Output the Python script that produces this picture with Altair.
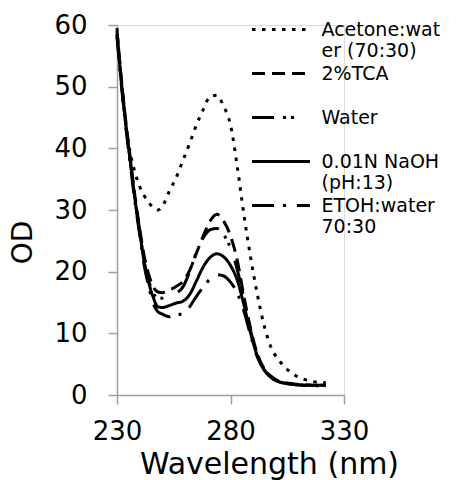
import altair as alt
import pandas as pd

wavelength = [230, 232, 234, 236, 238, 240, 242, 244, 246, 248, 250, 253, 256, 259, 262, 265,
              268, 271, 274, 277, 280, 283, 286, 289, 292, 295, 298, 301, 304, 308, 312, 316, 322]

series_names = ["Acetone:water (70:30)", "2%TCA", "Water", "0.01N NaOH (pH:13)", "ETOH:water 70:30"]

acetone = [59.5, 50.5, 43.5, 39.0, 36.0, 33.8, 32.3, 31.2, 30.4, 30.0, 30.6, 33.0, 35.2, 38.0, 40.8, 43.8,
           46.3, 48.4, 48.6, 46.8, 43.8, 37.0, 29.0, 22.0, 16.0, 11.0, 7.6, 5.8, 4.5, 3.3, 2.6, 2.2, 2.0]
tca = [59.0, 51.0, 44.0, 38.0, 32.0, 27.0, 22.5, 19.5, 17.5, 16.7, 16.6, 17.0, 17.6, 18.4, 20.2, 23.0,
       25.8, 28.2, 29.3, 28.2, 25.8, 21.8, 15.8, 10.5, 6.5, 4.2, 3.0, 2.3, 2.0, 1.8, 1.7, 1.6, 1.6]
water = [58.5, 50.5, 43.5, 37.5, 31.5, 26.5, 21.5, 18.5, 16.5, 15.8, 15.7, 16.0, 16.5, 17.5, 20.0, 23.2,
         25.5, 26.8, 27.0, 26.0, 23.8, 20.3, 15.5, 10.2, 6.3, 4.1, 2.9, 2.2, 1.9, 1.7, 1.6, 1.6, 1.6]
naoh = [58.5, 50.5, 43.5, 37.5, 31.5, 26.5, 21.5, 18.2, 15.8, 14.3, 14.2, 14.5, 14.9, 15.2, 16.3, 18.5,
        20.8, 22.3, 22.9, 22.4, 21.0, 18.6, 14.5, 9.8, 6.2, 4.0, 2.8, 2.2, 1.9, 1.7, 1.6, 1.6, 1.6]
etoh = [58.0, 50.0, 43.0, 37.0, 31.0, 26.0, 21.0, 17.5, 14.8, 13.5, 13.1, 12.7, 13.2, 13.0, 14.3, 16.0,
        17.5, 18.8, 19.5, 19.3, 18.3, 16.5, 13.5, 9.5, 6.0, 4.0, 2.8, 2.2, 1.9, 1.7, 1.6, 1.5, 1.5]

x_ticks = [230, 280, 330]
y_ticks = [0, 10, 20, 30, 40, 50, 60]

rows = []
for name, vals in zip(series_names, [acetone, tca, water, naoh, etoh]):
    for w, v in zip(wavelength, vals):
        rows.append({"wl": w, "od": v, "series": name})
df = pd.DataFrame(rows)

dashes = [[3.5, 6.5], [13, 7], [22, 9, 3, 5, 3, 16], [1, 0], [22, 9, 3, 11]]

label_expr = (
    "datum.label == 'Acetone:water (70:30)' ? ['Acetone:wat', 'er (70:30)'] : "
    "datum.label == '0.01N NaOH (pH:13)' ? ['0.01N NaOH', '(pH:13)'] : "
    "datum.label == 'ETOH:water 70:30' ? ['ETOH:water', '70:30'] : datum.label"
)

FONT = "DejaVu Sans"
AX = "#a0a0a0"

chart = alt.Chart(df).mark_line(interpolate="monotone", color="black", strokeWidth=3).encode(
    x=alt.X("wl:Q", scale=alt.Scale(domain=[230, 330], nice=False),
            axis=alt.Axis(values=x_ticks, title="Wavelength (nm)", grid=False, labelFlush=False,
                          domainColor=AX, tickColor=AX, tickSize=9, domainWidth=1.5, tickWidth=1.5,
                          labelFont=FONT, labelFontSize=26, labelColor="black", labelPadding=14,
                          titleFont=FONT, titleFontSize=30, titleFontWeight="normal", titleColor="black",
                          titleX=152, titleY=78, titleAlign="center", titleBaseline="alphabetic")),
    y=alt.Y("od:Q", scale=alt.Scale(domain=[0, 60], nice=False),
            axis=alt.Axis(values=y_ticks, title="OD", grid=False,
                          domainColor=AX, tickColor=AX, tickSize=9, domainWidth=1.5, tickWidth=1.5,
                          labelFont=FONT, labelFontSize=26, labelColor="black", labelPadding=21,
                          titleFont=FONT, titleFontSize=28, titleFontWeight="normal", titleColor="black",
                          titleX=-94, titleY=217, titleAngle=270, titleAlign="center", titleBaseline="middle")),
    strokeDash=alt.StrokeDash("series:N", scale=alt.Scale(domain=series_names, range=dashes),
                              legend=alt.Legend(title=None, orient="none", legendX=135, legendY=-5,
                                                symbolType="M-4,0H4", symbolSize=210, symbolStrokeWidth=3,
                                                symbolOffset=19.5,
                                                symbolStrokeColor="black", labelFont=FONT, labelFontSize=19,
                                                labelColor="black", labelOffset=31,
                                                labelLimit=0, labelExpr=label_expr, gridAlign="all",
                                                rowPadding=3, padding=0)),
    detail="series:N",
).properties(
    width=227, height=370,
    autosize=alt.AutoSizeParams(type="none"),
    padding={"left": 117, "top": 25, "right": 117, "bottom": 85},
).configure_view(stroke=None).configure(background="white")

chart.save("out.html", embed_options={"renderer": "svg", "actions": False})
